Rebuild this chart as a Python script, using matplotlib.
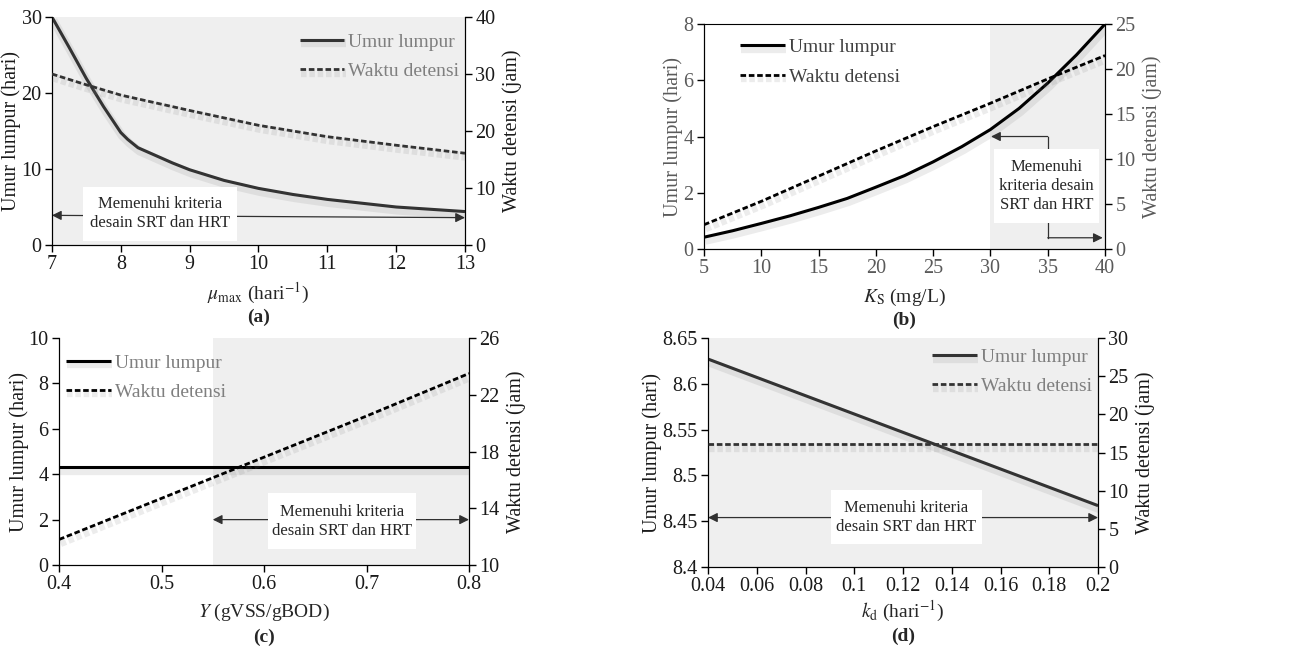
import matplotlib
matplotlib.use("Agg")
import matplotlib.pyplot as plt
import matplotlib.patheffects as pe
from matplotlib.patches import Rectangle
from matplotlib.ticker import FormatStrFormatter
import numpy as np

plt.rcParams['font.family'] = ['Liberation Serif', 'DejaVu Serif']
plt.rcParams['mathtext.fontset'] = 'stix'

# (a) variation of mu_max
mu_max = [7, 7.25, 7.5, 7.75, 8, 8.1, 8.25, 8.5, 8.75, 9, 9.5, 10, 10.5, 11, 11.5, 12, 12.5, 13]
srt_a = [30, 26.0, 21.9, 18.2, 14.8, 13.9, 12.8, 11.8, 10.8, 9.9, 8.5, 7.45, 6.65, 6.0, 5.5, 5.0, 4.7, 4.4]
mu_max_h = [7, 7.5, 8, 9, 10, 11, 12, 13]
hrt_a = [30.0, 28.1, 26.3, 23.6, 21.0, 19.0, 17.5, 16.1]

# (b) variation of Ks
ks = [5, 7.5, 10, 12.5, 15, 17.5, 20, 22.5, 25, 27.5, 30, 32.5, 35, 37.5, 40]
srt_b = [0.42, 0.65, 0.91, 1.18, 1.48, 1.8, 2.2, 2.61, 3.1, 3.64, 4.25, 5.0, 5.9, 6.9, 8.0]
ks_h = [5, 10, 15, 20, 25, 30, 35, 40]
hrt_b = [2.7, 5.3, 8.1, 10.9, 13.6, 16.2, 18.9, 21.5]

# (c) variation of Y
yield_y = [0.4, 0.5, 0.6, 0.7, 0.8]
srt_c = [4.3, 4.3, 4.3, 4.3, 4.3]
hrt_c = [11.8, 14.7, 17.6, 20.5, 23.5]

# (d) variation of kd
kd = [0.04, 0.06, 0.08, 0.1, 0.12, 0.14, 0.16, 0.18, 0.2]
srt_d = [8.627, 8.607, 8.587, 8.567, 8.547, 8.527, 8.507, 8.487, 8.467]
hrt_d = [16.1, 16.1, 16.1, 16.1, 16.1, 16.1, 16.1, 16.1, 16.1]

note2 = 'Memenuhi kriteria\ndesain SRT dan HRT'
note3 = 'Memenuhi\nkriteria desain\nSRT dan HRT'
SHADE = '#efefef'

shadow = [pe.SimpleLineShadow(offset=(1, -2.5), shadow_color='gray', alpha=0.15, linewidth=6), pe.Normal()]

fig = plt.figure(figsize=(12.92, 6.49), dpi=100)


def setup(rect, x, y1, x2, y2, xlim, ylim1, ylim2, xt, yt1, yt2, line_col, tick_col, leg_col, leg_pos):
    ax = fig.add_axes(rect)
    ax2 = ax.twinx()
    ax.plot(x, y1, color=line_col, lw=2.2, solid_capstyle='butt', path_effects=shadow, label='Umur lumpur', zorder=3)
    ax2.plot(x2, y2, color=line_col, lw=2.0, dashes=(2, 1), path_effects=shadow, label='Waktu detensi', zorder=3)
    ax.set_xlim(xlim)
    ax.set_ylim(ylim1)
    ax2.set_ylim(ylim2)
    ax.set_xticks(xt)
    ax.set_yticks(yt1)
    ax2.set_yticks(yt2)
    ax.xaxis.set_major_formatter(FormatStrFormatter('%g'))
    ax.yaxis.set_major_formatter(FormatStrFormatter('%g'))
    ax2.yaxis.set_major_formatter(FormatStrFormatter('%g'))
    for a in (ax, ax2):
        a.tick_params(direction='out', length=5, width=1, labelsize=14.5, labelcolor=tick_col, colors='black', pad=2.5)
        a.tick_params(axis='y', labelcolor=tick_col)
        a.spines['top'].set_visible(False)
    ax.set_ylabel('Umur lumpur (hari)', fontsize=14.5, color=tick_col, labelpad=0)
    ax2.set_ylabel('Waktu detensi (jam)', fontsize=14.5, color=tick_col, labelpad=5)
    h1, l1 = ax.get_legend_handles_labels()
    h2, l2 = ax2.get_legend_handles_labels()
    leg = ax2.legend(h1 + h2, l1 + l2, loc='upper left', bbox_to_anchor=leg_pos, frameon=False,
                     fontsize=14, handlelength=2.3, handletextpad=0.2, labelspacing=0.6,
                     borderpad=0, borderaxespad=0)
    for t in leg.get_texts():
        t.set_color(leg_col)
    return ax, ax2


def note_box(ax, box, text):
    x0, y0, x1, y1 = box
    ax.add_patch(Rectangle((x0, y0), x1 - x0, y1 - y0, transform=ax.transAxes,
                           facecolor='white', edgecolor='none', zorder=4))
    ax.text((x0 + x1) / 2, (y0 + y1) / 2, text, transform=ax.transAxes, ha='center', va='center',
            fontsize=12, color='#262626', linespacing=1.25, zorder=5)


def double_arrow(ax, p0, p1):
    ax.annotate('', xy=p1, xytext=p0,
                arrowprops=dict(arrowstyle='<|-|>', color='#303030', lw=0.9, mutation_scale=14,
                                shrinkA=0, shrinkB=0), zorder=3.5)


def fig_label(ax, xlabel, letter, y_lab, y_let):
    pos = ax.get_position()
    xc = (pos.x0 + pos.x1) / 2
    fig.text(xc, 1 - y_lab / 649, xlabel, ha='center', va='center', fontsize=14, color='#262626')
    fig.text(xc, 1 - y_let / 649, letter, ha='center', va='center', fontsize=14, fontweight='bold', color='#262626')


# ---- (a)
axa, axa2 = setup([0.0402, 0.6225, 0.3197, 0.3513], mu_max, srt_a, mu_max_h, hrt_a,
                  (7, 13), (0, 30), (0, 40), range(7, 14), [0, 10, 20, 30], [0, 10, 20, 30, 40],
                  '#333333', '#1a1a1a', '#7f7f7f', (0.60, 0.93))
axa.axvspan(7, 13, color=SHADE, zorder=0, lw=0)
double_arrow(axa, (7, 3.9), (13, 3.6))
note_box(axa, (0.075, 0.018, 0.448, 0.254), note2)
fig_label(axa, r'$\mu_{\mathrm{max}}$ (hari$^{-1}$)', '(a)', 293, 317)

# ---- (b)
axb, axb2 = setup([0.5449, 0.6163, 0.3104, 0.3467], ks, srt_b, ks_h, hrt_b,
                  (5, 40), (0, 8), (0, 25), range(5, 41, 5), [0, 2, 4, 6, 8], [0, 5, 10, 15, 20, 25],
                  'black', '#5a5a5a', '#404040', (0.09, 0.935))
axb.spines['top'].set_visible(True)
axb.axvspan(30, 40, color=SHADE, zorder=0, lw=0)
axb.plot([35, 35], [3.56, 4.0], color='#303030', lw=0.9, zorder=3.5)
axb.annotate('', xy=(30.05, 4.0), xytext=(35, 4.0),
             arrowprops=dict(arrowstyle='-|>', color='#303030', lw=0.9, mutation_scale=14, shrinkA=0, shrinkB=0))
axb.plot([35, 35], [0.92, 0.4], color='#303030', lw=0.9, zorder=3.5)
axb.annotate('', xy=(39.8, 0.4), xytext=(35, 0.4),
             arrowprops=dict(arrowstyle='-|>', color='#303030', lw=0.9, mutation_scale=14, shrinkA=0, shrinkB=0))
note_box(axb, (0.723, 0.116, 0.985, 0.444), note3)
fig_label(axb, r'$K_{\mathrm{S}}$ (mg/L)', '(b)', 297, 320)

# ---- (c)
axc, axc2 = setup([0.0457, 0.1294, 0.3173, 0.3498], yield_y, srt_c, yield_y, hrt_c,
                  (0.4, 0.8), (0, 10), (10, 26), np.round(np.arange(0.4, 0.81, 0.1), 2),
                  [0, 2, 4, 6, 8, 10], [10, 14, 18, 22, 26],
                  'black', '#1a1a1a', '#7f7f7f', (0.017, 0.93))
axc.axvspan(0.55, 0.8, color=SHADE, zorder=0, lw=0)
double_arrow(axc, (0.55, 2.0), (0.8, 2.0))
note_box(axc, (0.51, 0.07, 0.871, 0.317), note2)
fig_label(axc, r'$Y$ (gVSS/gBOD)', '(c)', 612, 637)

# ---- (d)
axd, axd2 = setup([0.548, 0.1263, 0.3019, 0.3529], kd, srt_d, kd, hrt_d,
                  (0.04, 0.2), (8.4, 8.65), (0, 30), np.round(np.arange(0.04, 0.201, 0.02), 2),
                  np.round(np.arange(8.4, 8.651, 0.05), 2), [0, 5, 10, 15, 20, 25, 30],
                  '#333333', '#1a1a1a', '#7f7f7f', (0.574, 0.955))
axd.axvspan(0.04, 0.2, color=SHADE, zorder=0, lw=0)
double_arrow(axd, (0.04, 8.454), (0.2, 8.454))
note_box(axd, (0.315, 0.10, 0.703, 0.336), note2)
fig_label(axd, r'$k_{\mathrm{d}}$ (hari$^{-1}$)', '(d)', 611, 636)

fig.savefig('out.png', dpi=100)
